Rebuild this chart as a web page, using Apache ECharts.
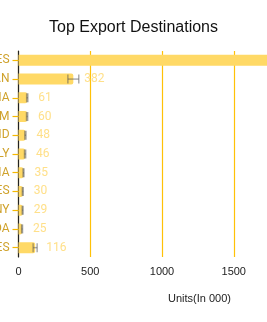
<!DOCTYPE html>
<html>
<head>
<meta charset="utf-8">
<style>
html,body{margin:0;padding:0;background:#fff;}
#chart{width:267px;height:322px;}
</style>
<script src="https://cdn.jsdelivr.net/npm/echarts@6/dist/echarts.min.js"></script>
</head>
<body>
<div id="chart"></div>
<script>
var categories = ['UNITED STATES','JAPAN','CHINA','VIETNAM','THAILAND','ITALY','INDONESIA','PHILIPPINES','GERMANY','CANADA','OTHER COUNTRIES'];
var values = [1850, 382, 61, 60, 48, 46, 35, 30, 29, 25, 116];
var errors = [60, 38, 4, 4, 4, 4, 3, 3, 3, 3, 14];
var xTicks = [0, 500, 1000, 1500, 2000];

var errData = values.map(function (v, i) { return [i, v - errors[i], v + errors[i]]; });

var chart = echarts.init(document.getElementById('chart'));
chart.setOption({
  animation: false,
  title: {
    text: 'Top Export Destinations',
    left: 'center',
    top: 15,
    textStyle: { fontFamily: 'Liberation Sans, Arial, sans-serif', fontSize: 16, fontWeight: 'normal', color: '#111' }
  },
  grid: { left: 18.5, top: 51, width: 287, height: 206, containLabel: false, outerBoundsMode: 'none' },
  xAxis: {
    type: 'value',
    min: xTicks[0],
    max: xTicks[xTicks.length - 1],
    interval: 500,
    axisLine: { show: false },
    axisTick: { show: false },
    splitLine: { show: true, lineStyle: { color: '#FFC107', width: 1.2 } },
    axisLabel: { color: '#222', fontSize: 11, margin: 9, fontFamily: 'Liberation Sans, Arial, sans-serif',
      formatter: function (v) { return String(v); } }
  },
  yAxis: {
    type: 'category',
    data: categories,
    inverse: true,
    axisLine: { show: true, lineStyle: { color: '#222', width: 1.2 } },
    axisTick: { show: true, length: 6, alignWithLabel: true, lineStyle: { color: '#F5B800', width: 1.2 } },
    axisLabel: { color: '#CFA22C', fontSize: 12, margin: 9, fontFamily: 'Roboto, sans-serif' },
    splitLine: { show: false }
  },
  graphic: [{
    type: 'text',
    left: 168,
    top: 293,
    style: { text: 'Units(In 000)', fontSize: 11, fill: '#222', fontFamily: 'Liberation Sans, Arial, sans-serif' }
  }],
  series: [
    {
      type: 'bar',
      data: values,
      barWidth: 11,
      itemStyle: { color: '#FFD966', borderRadius: [0, 2, 2, 0] },
      label: { show: true, position: 'right', distance: 11, color: '#FFE08A', fontSize: 12, fontFamily: 'Roboto, sans-serif' },
      z: 2
    },
    {
      type: 'custom',
      data: errData,
      z: 3,
      renderItem: function (params, api) {
        var idx = api.value(0);
        var lo = api.coord([api.value(1), idx]);
        var hi = api.coord([api.value(2), idx]);
        var h = 4.5;
        var style = { stroke: 'rgba(90,90,90,0.5)', lineWidth: 1.5, fill: null };
        return {
          type: 'group',
          children: [
            { type: 'line', shape: { x1: lo[0], y1: lo[1], x2: hi[0], y2: hi[1] }, style: style },
            { type: 'line', shape: { x1: lo[0], y1: lo[1] - h, x2: lo[0], y2: lo[1] + h }, style: style },
            { type: 'line', shape: { x1: hi[0], y1: hi[1] - h, x2: hi[0], y2: hi[1] + h }, style: style }
          ]
        };
      },
      encode: { x: [1, 2], y: 0 }
    }
  ]
});
</script>
</body>
</html>
